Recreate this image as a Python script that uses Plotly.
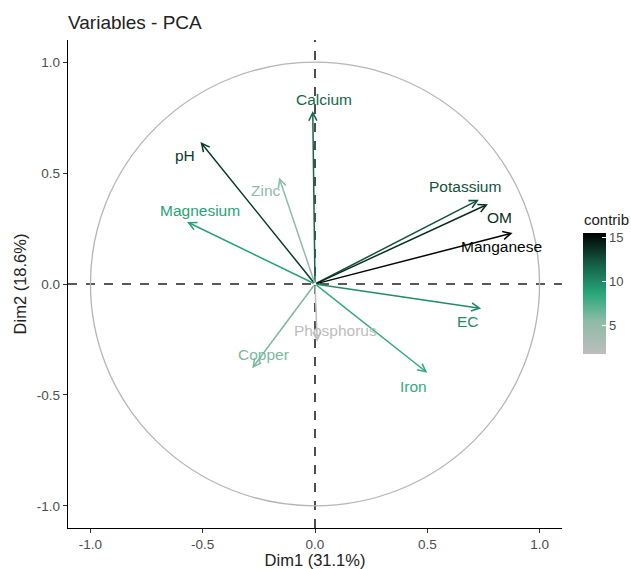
import plotly.graph_objects as go
from plotly.colors import sample_colorscale

# ---- data ----
variables = ["Calcium", "pH", "Zinc", "Magnesium", "Potassium", "OM",
             "Manganese", "EC", "Iron", "Copper", "Phosphorus"]
dim1 = [-0.01, -0.51, -0.16, -0.57, 0.73, 0.77, 0.88, 0.74, 0.50, -0.28, 0.01]
dim2 = [0.78, 0.64, 0.48, 0.28, 0.38, 0.36, 0.23, -0.11, -0.40, -0.38, -0.26]
contrib = [11.6, 13.3, 5.2, 8.8, 12.4, 13.8, 15.3, 9.8, 8.2, 6.0, 1.8]
# label positions (data units)
label_x = [0.04, -0.58, -0.22, -0.51, 0.67, 0.82, 0.83, 0.68, 0.44, -0.23, 0.09]
label_y = [0.83, 0.58, 0.42, 0.33, 0.44, 0.30, 0.17, -0.17, -0.46, -0.32, -0.21]
cmin, cmax = 1.7, 15.5
x_ticks = [-1.0, -0.5, 0.0, 0.5, 1.0]
y_ticks = [-1.0, -0.5, 0.0, 0.5, 1.0]
tick_text = ["-1.0", "-0.5", "0.0", "0.5", "1.0"]
cbar_ticks = [5, 10, 15]

colorscale = [[0.0, "#BDBDBD"], [0.28, "#8ABBA6"], [0.5, "#27A77A"],
              [0.75, "#145C44"], [1.0, "#000000"]]

def col(v):
    t = (v - cmin) / (cmax - cmin)
    return sample_colorscale(colorscale, [min(max(t, 0), 1)])[0]

fig = go.Figure()

# colorbar holder trace
fig.add_trace(go.Scatter(
    x=[None], y=[None], mode="markers",
    marker=dict(color=[cmin], cmin=cmin, cmax=cmax, colorscale=colorscale,
                showscale=True,
                colorbar=dict(xref="container", yref="container",
                              x=583 / 631, xanchor="left", xpad=0,
                              y=(569 - 41 - 301.5) / 569, yanchor="middle", ypad=0,
                              len=121, lenmode="pixels", thickness=23,
                              outlinewidth=0, tickvals=cbar_ticks,
                              ticks="inside", ticklen=4, tickcolor="white",
                              tickfont=dict(size=13, color="#4D4D4D"))),
    showlegend=False, hoverinfo="skip"))

annotations = []
for v, x, y, c, lx, ly in zip(variables, dim1, dim2, contrib, label_x, label_y):
    cc = col(c)
    annotations.append(dict(x=x, y=y, ax=0, ay=0, xref="x", yref="y",
                            axref="x", ayref="y", text="", showarrow=True,
                            arrowhead=5, arrowsize=1.05, arrowwidth=1.5,
                            arrowcolor=cc, standoff=0, startstandoff=0))
    annotations.append(dict(x=lx, y=ly, xref="x", yref="y", text=v,
                            showarrow=False, font=dict(size=15.5, color=cc)))

# colorbar title
annotations.append(dict(x=(582 - 68) / 494, y=(528 - 219) / 488,
                        xref="paper", yref="paper", text="contrib",
                        showarrow=False, xanchor="left", yanchor="middle",
                        font=dict(size=15, color="#222")))

shapes = [
    dict(type="circle", xref="x", yref="y", x0=-1, y0=-1, x1=1, y1=1,
         line=dict(color="#B5B5B5", width=1.3), layer="below"),
    dict(type="line", xref="x", yref="paper", x0=0, x1=0, y0=0, y1=1,
         line=dict(color="#222", width=1.6, dash="dash"), layer="below"),
    dict(type="line", xref="paper", yref="y", x0=0, x1=1, y0=0, y1=0,
         line=dict(color="#222", width=1.6, dash="dash"), layer="below"),
]

axis_common = dict(showgrid=False, zeroline=False, showline=True,
                   linecolor="black", linewidth=1.4, ticks="outside",
                   ticklen=4, tickcolor="#333", tickwidth=1,
                   tickfont=dict(size=13.5, color="#4D4D4D"),
                   automargin=False, mirror=False)

fig.update_layout(
    width=631, height=569,
    margin=dict(l=68, r=69, t=40, b=41),
    paper_bgcolor="white", plot_bgcolor="white",
    font=dict(family="Liberation Sans, Arial, sans-serif", color="#222"),
    title=dict(text="Variables - PCA", x=68/631, xanchor="left",
               xref="container", y=1-22/569, yanchor="middle",
               yref="container", font=dict(size=19, color="#222")),
    xaxis=dict(range=[-1.1, 1.1], tickvals=x_ticks, ticktext=tick_text,
               title=dict(text="Dim1 (31.1%)", font=dict(size=16.5, color="#222"),
                          standoff=3), **axis_common),
    yaxis=dict(range=[-1.1, 1.1], tickvals=y_ticks, ticktext=tick_text,
               title=dict(text="Dim2 (18.6%)", font=dict(size=16.5, color="#222"),
                          standoff=6), **axis_common),
    shapes=shapes, annotations=annotations,
)

fig.write_html("out.html")
